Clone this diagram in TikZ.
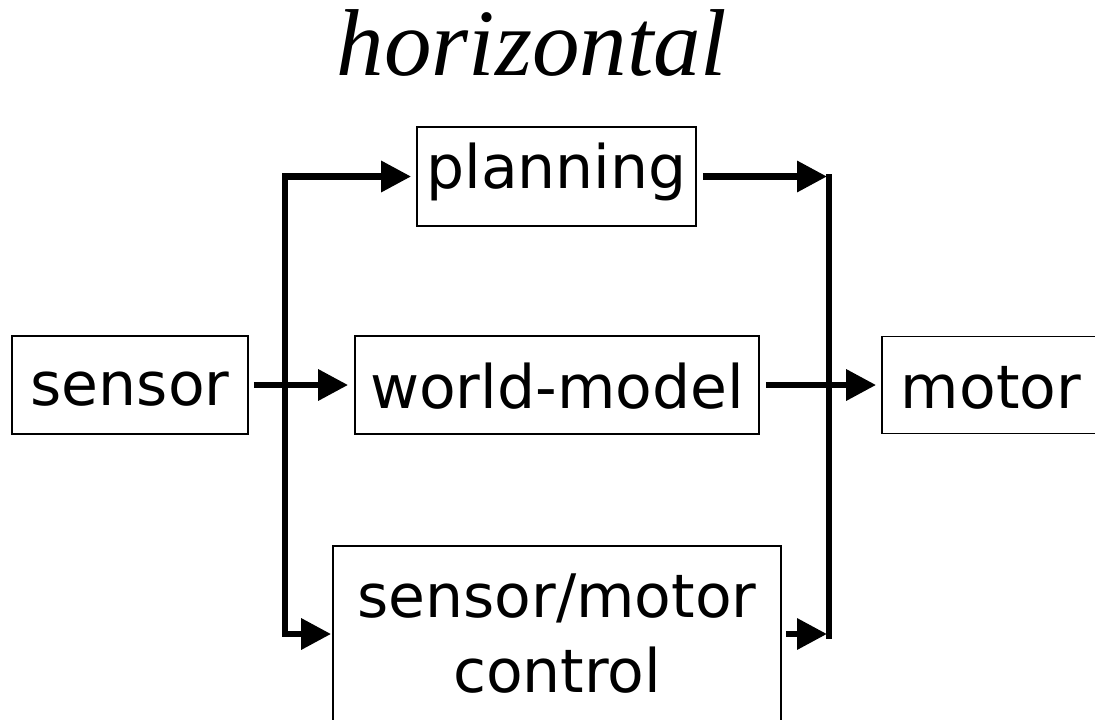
\documentclass[tikz,border=0pt]{standalone}
\usepackage{fontspec}
\setmainfont{DejaVu Sans}
\newfontfamily\titlefont{Liberation Serif}
\usetikzlibrary{arrows.meta}

\tikzset{
  block/.style={draw, line width=1.8pt, inner sep=0pt, align=center,
    font=\fontsize{60}{75}\selectfont},
  wire/.style={line width=6.5pt},
  tip/.tip={Triangle[length=30pt,width=30pt]},
  flow/.style={wire, -tip},
}

\begin{document}
\begin{tikzpicture}[x=1pt, y=-1pt]
  \useasboundingbox (0,0) rectangle (1095,720);
  \clip (0,0) rectangle (1095,720);

  % title
  \node[anchor=base, font=\titlefont\itshape\fontsize{95}{100}\selectfont]
    (title) at (532,75) {horizontal};

  % blocks
  \node[block, minimum width=236pt, minimum height=98pt,
        text height=40pt, text depth=0pt] (sensor) at (130,385) {sensor};
  \node[block, minimum width=279pt, minimum height=99pt,
        text height=44pt, text depth=20pt] (planning) at (556.5,176.5) {planning};
  \node[block, minimum width=404pt, minimum height=98pt,
        text height=46pt, text depth=0pt] (world) at (557,385) {world-model};
  \node[block, minimum width=218pt, minimum height=97pt,
        text height=46pt, text depth=0pt] (motor) at (991,385) {motor};
  \node[block, minimum width=448pt, minimum height=176pt] (smc) at (557,634)
    {sensor/motor\\control};

  % distribution bus on the left, feeding planning and low-level control
  \coordinate (bl) at (285,176.5);
  \draw[wire, tip-tip, shorten <=1pt, shorten >=5pt]
    (smc.west) -| (bl) -- (planning.west);

  % collection bus on the right
  \coordinate (brtop) at (829,174);
  \coordinate (brbot) at (829,639);
  \draw[wire] (brtop) -- (brbot);
  \draw[flow, shorten <=6pt, shorten >=2pt] (planning.east) -- (brtop |- planning.east);
  \draw[flow, shorten <=4pt, shorten >=2pt] (smc.east) -- (brbot |- smc.east);

  % straight-through path
  \draw[flow, shorten <=5pt, shorten >=6pt] (sensor.east) -- (world.west);
  \draw[flow, shorten <=6pt, shorten >=5pt] (world.east) -- (motor.west);
\end{tikzpicture}
\end{document}
